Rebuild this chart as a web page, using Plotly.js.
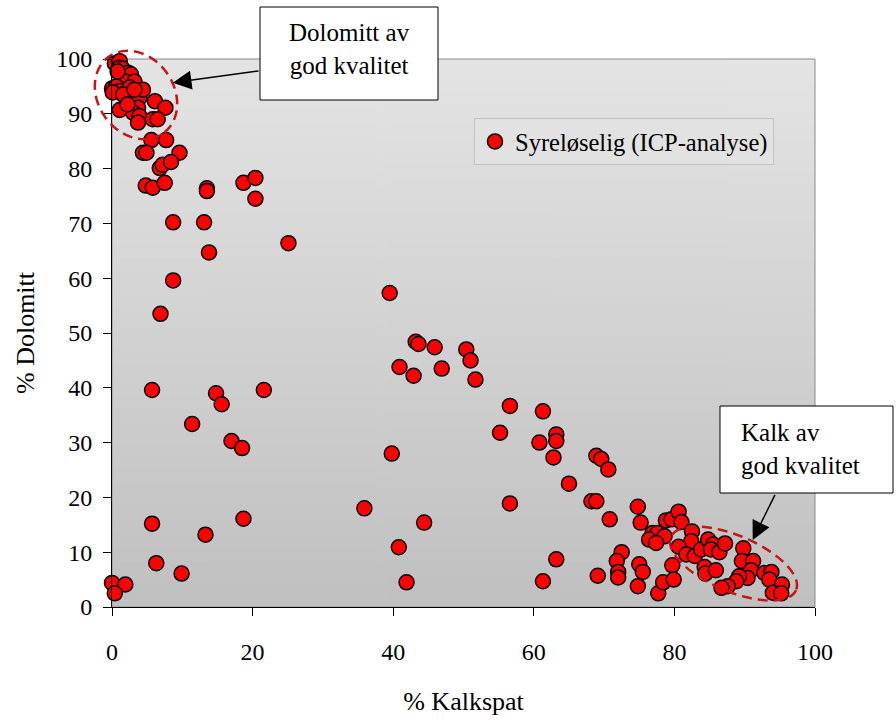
<!DOCTYPE html>
<html>
<head>
<meta charset="utf-8">
<script src="https://cdn.plot.ly/plotly-3.0.1.min.js"></script>
<style>html,body{margin:0;padding:0;background:#fff;}#chart{width:896px;height:722px;}</style>
</head>
<body>
<div id="chart"></div>
<script>
// % Kalkspat (x) and % Dolomitt (y)
const kalkspat = [
  0.4, 1.1, 1.0, 1.5, 2.3, 2.7, 1.8, 3.2, 0.0, 0.6, 1.1, 0.1, 2.0, 2.7, 3.9, 4.4,
  3.7, 3.0, 3.9, 1.1, 6.1, 7.6, 5.8, 6.5, 3.7, 5.6, 7.7, 2.5, 1.6, 0.8, 3.2, 2.2,
  4.4, 4.9, 9.6, 6.8, 7.2, 8.4, 4.8, 5.8, 7.5, 13.5, 13.5, 18.7, 20.4, 20.4,
  8.7, 13.1, 13.8, 25.1, 8.7, 6.9, 5.7, 14.8, 15.6, 21.6, 11.4, 17.0, 18.5,
  5.7, 18.7, 13.3, 6.3, 9.9, 0.0, 1.9, 0.4,
  39.5, 43.2, 43.6, 45.9, 50.4, 51.0, 40.9, 42.9, 46.9, 51.7, 56.6, 61.3, 55.2,
  60.8, 63.2, 63.2, 62.8, 65.0, 39.8, 35.9, 44.4, 40.8, 41.9, 56.6, 63.2, 61.3,
  68.9, 69.6, 70.6, 68.2, 68.9, 70.8, 74.8, 75.2, 69.1, 72.5, 71.8, 72.0, 72.0,
  75.0, 75.5, 74.8, 77.7, 78.4, 79.7, 79.9, 78.8, 79.6, 80.6, 81.0, 76.9, 77.6,
  78.6, 76.4, 77.4, 82.5, 82.4, 80.6, 81.7, 82.9, 83.8, 84.8, 85.5, 85.2, 86.4,
  87.2, 84.3, 84.4, 85.9, 89.8, 89.6, 91.2, 90.9, 90.4, 89.2, 88.8, 87.6, 86.7,
  92.8, 93.8, 93.5, 95.3, 94.0, 95.2
];
const dolomitt = [
  99.2, 99.6, 98.4, 98.2, 97.5, 97.2, 95.9, 95.9, 94.6, 95.0, 94.1, 93.9, 92.9, 92.6, 92.9, 94.4,
  91.1, 90.2, 89.6, 90.7, 92.3, 91.1, 89.0, 89.0, 88.4, 85.2, 85.2, 94.8, 93.5, 97.7, 94.4, 91.7,
  82.9, 82.9, 82.9, 80.1, 80.7, 81.2, 76.9, 76.5, 77.4, 76.4, 75.9, 77.4, 78.3, 74.5,
  70.2, 70.2, 64.7, 66.4, 59.6, 53.5, 39.6, 39.0, 37.0, 39.6, 33.4, 30.3, 29.0,
  15.2, 16.1, 13.2, 8.0, 6.1, 4.4, 4.1, 2.5,
  57.3, 48.4, 48.0, 47.4, 47.0, 45.0, 43.8, 42.2, 43.5, 41.5, 36.7, 35.7, 31.8,
  30.0, 31.5, 30.3, 27.3, 22.5, 28.0, 18.0, 15.4, 10.9, 4.5, 18.9, 8.7, 4.7,
  27.6, 27.0, 25.1, 19.3, 19.3, 16.0, 18.3, 15.4, 5.7, 10.0, 8.4, 6.4, 5.4,
  7.8, 6.4, 3.8, 2.5, 4.5, 7.6, 5.0, 15.8, 16.0, 17.4, 15.5, 13.5, 13.5,
  12.9, 12.3, 11.7, 13.8, 12.0, 11.0, 9.6, 9.3, 10.5, 12.3, 11.4, 10.5, 10.0,
  11.6, 7.3, 6.1, 6.7, 10.7, 8.4, 8.4, 6.7, 5.3, 5.6, 4.7, 3.8, 3.5,
  6.2, 6.4, 5.0, 4.1, 2.6, 2.5
];
const seriesName = 'Syreløselig (ICP-analyse)';
const xTicks = [0, 20, 40, 60, 80, 100];
const yTicks = [0, 10, 20, 30, 40, 50, 60, 70, 80, 90, 100];

// geometry helpers (pixel -> paper)
const M = {l: 112, r: 81, t: 59, b: 115};
const W = 896, H = 722;
const PW = W - M.l - M.r, PH = H - M.t - M.b;
const px = v => (v - M.l) / PW;
const py = v => (H - M.b - v) / PH;

function ellipsePath(cx, cy, a, b, angDeg) {
  const th = angDeg * Math.PI / 180;
  let d = '';
  for (let i = 0; i <= 72; i++) {
    const t = i / 72 * 2 * Math.PI;
    const ex = a * Math.cos(t), ey = b * Math.sin(t);
    const X = cx + ex * Math.cos(th) - ey * Math.sin(th);
    const Y = cy + ex * Math.sin(th) + ey * Math.cos(th);
    d += (i === 0 ? 'M' : 'L') + px(X).toFixed(5) + ',' + py(Y).toFixed(5);
  }
  return d + 'Z';
}

// gradient background image
const cv = document.createElement('canvas');
cv.width = 4; cv.height = 256;
const ctx = cv.getContext('2d');
const g = ctx.createLinearGradient(0, 0, 0, 256);
g.addColorStop(0, '#e4e4e4');
g.addColorStop(1, '#c0c0c0');
ctx.fillStyle = g; ctx.fillRect(0, 0, 4, 256);
const bgURL = cv.toDataURL('image/png');

const FONT = 'Liberation Serif, Times New Roman, serif';

const trace = {
  type: 'scatter', mode: 'markers', name: seriesName,
  x: kalkspat, y: dolomitt, cliponaxis: false,
  marker: {color: '#ff0000', size: 15, line: {color: '#000000', width: 1.5}},
  showlegend: true
};

const ellColor = 'rgb(200,20,20)';
const layout = {
  width: W, height: H,
  margin: M,
  paper_bgcolor: '#ffffff', plot_bgcolor: 'rgba(0,0,0,0)',
  font: {family: FONT, size: 24, color: '#000'},
  showlegend: true,
  legend: {
    x: px(474), y: py(118), xanchor: 'left', yanchor: 'top',
    bgcolor: '#e2e2e2', bordercolor: '#c4c4c4', borderwidth: 1,
    font: {family: FONT, size: 24.5, color: '#000'}
  },
  xaxis: {
    range: [0, 100], tickvals: xTicks, ticktext: xTicks.map(String),
    showgrid: false, zeroline: false, showline: true, linecolor: '#000', linewidth: 1,
    ticks: 'outside', ticklen: 8, tickcolor: '#000', tickwidth: 1,
    ticklabelstandoff: 15,
    tickfont: {family: FONT, size: 24, color: '#000'},
    title: {text: '% Kalkspat', font: {family: FONT, size: 26, color: '#000'}, standoff: 28}
  },
  yaxis: {
    range: [0, 100], tickvals: yTicks, ticktext: yTicks.map(String),
    showgrid: false, zeroline: false, showline: true, linecolor: '#000', linewidth: 1,
    ticks: 'outside', ticklen: 8, tickcolor: '#000', tickwidth: 1,
    ticklabelstandoff: 6,
    tickfont: {family: FONT, size: 24, color: '#000'},
    title: {text: '% Dolomitt', font: {family: FONT, size: 26, color: '#000'}, standoff: 14}
  },
  images: [{
    source: bgURL, xref: 'paper', yref: 'paper', x: 0, y: 1, sizex: 1, sizey: 1,
    sizing: 'stretch', xanchor: 'left', yanchor: 'top', layer: 'below'
  }],
  shapes: [
    {type: 'rect', xref: 'paper', yref: 'paper', x0: 0, x1: 1, y0: 0, y1: 1,
     line: {color: '#8a8a8a', width: 1}, layer: 'below'},
    {type: 'path', xref: 'paper', yref: 'paper', path: ellipsePath(136, 95, 47, 38, 55),
     line: {color: ellColor, width: 2.5, dash: '10px,6px'}, layer: 'above'},
    {type: 'path', xref: 'paper', yref: 'paper', path: ellipsePath(733.5, 563.5, 68, 28, 23),
     line: {color: ellColor, width: 2.5, dash: '10px,6px'}, layer: 'above'},
    {type: 'rect', xref: 'paper', yref: 'paper', x0: px(260), x1: px(438), y0: py(100), y1: py(7),
     fillcolor: '#fff', line: {color: '#000', width: 1}, layer: 'above'},
    {type: 'rect', xref: 'paper', yref: 'paper', x0: px(720), x1: px(893), y0: py(493), y1: py(406),
     fillcolor: '#fff', line: {color: '#000', width: 1}, layer: 'above'}
  ],
  annotations: [
    {xref: 'paper', yref: 'paper', x: px(349), y: py(49), xanchor: 'center', yanchor: 'middle',
     text: 'Dolomitt av<br>god kvalitet', showarrow: false, align: 'center',
     font: {family: FONT, size: 25, color: '#000'}},
    {xref: 'paper', yref: 'paper', x: px(739), y: py(448.5), xanchor: 'left', yanchor: 'middle',
     text: 'Kalk av<br>god kvalitet', showarrow: false, align: 'left',
     font: {family: FONT, size: 25, color: '#000'}},
    {xref: 'paper', yref: 'paper', x: px(172.7), y: py(82.7), text: '', showarrow: true,
     ax: 87.3, ay: -12, arrowhead: 2, arrowsize: 2.5, arrowwidth: 1.5, arrowcolor: '#000', standoff: 0},
    {xref: 'paper', yref: 'paper', x: px(752.7), y: py(540), text: '', showarrow: true,
     ax: 23, ay: -46.7, arrowhead: 2, arrowsize: 2.5, arrowwidth: 1.5, arrowcolor: '#000', standoff: 0}
  ]
};

Plotly.newPlot('chart', [trace], layout, {displayModeBar: false, staticPlot: true});
</script>
</body>
</html>
